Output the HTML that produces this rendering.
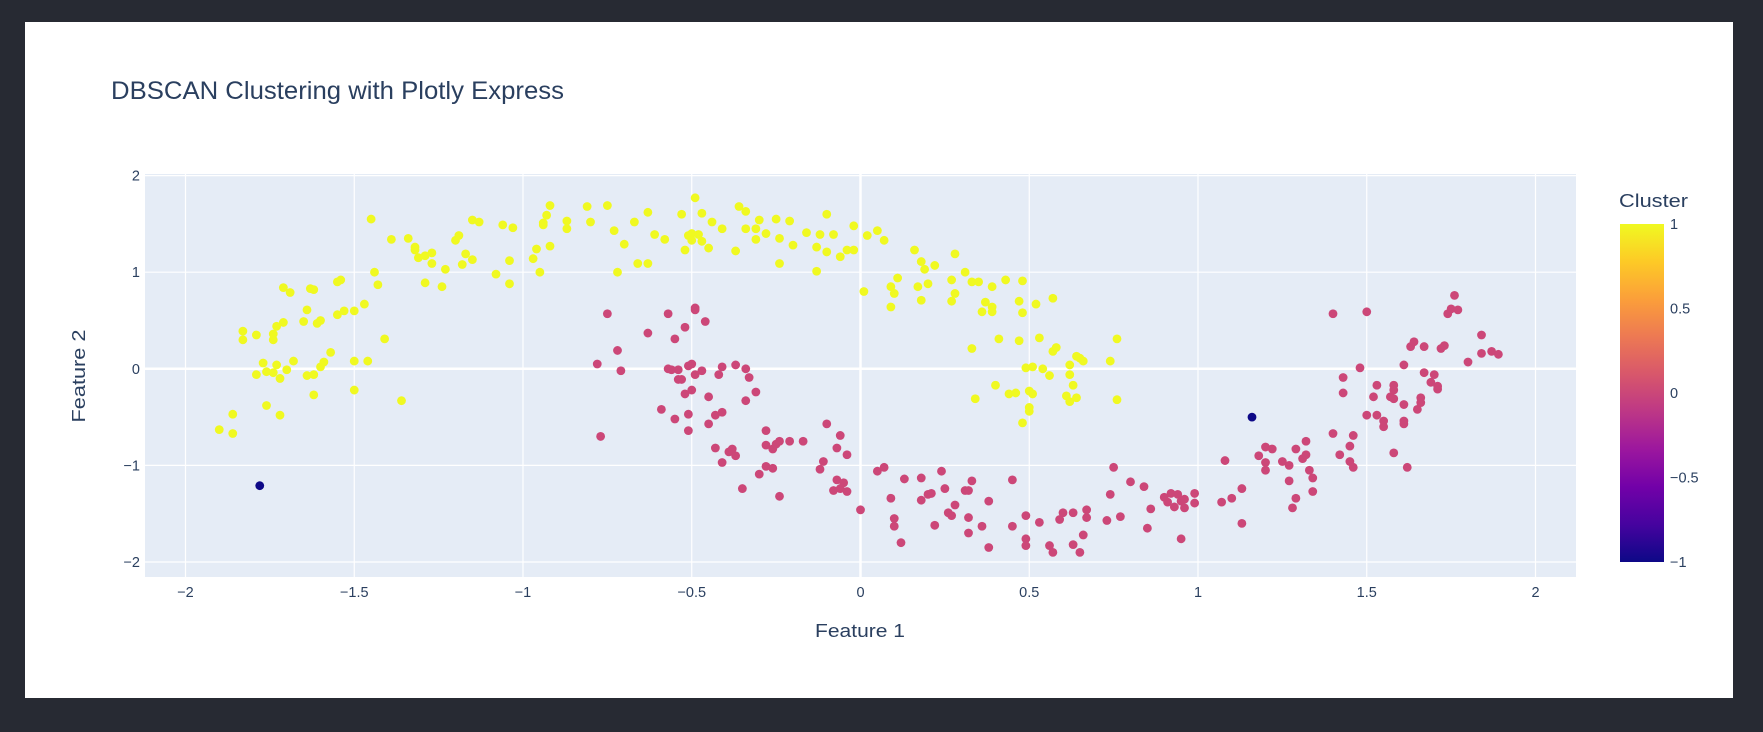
<!DOCTYPE html>
<html><head><meta charset="utf-8"><style>
html,body{margin:0;padding:0;background:#272a33;width:1763px;height:732px;overflow:hidden}
#card{position:absolute;left:25px;top:22px;width:1708px;height:676px;background:#fff}
svg{position:absolute;left:0;top:0}
text{font-family:"Liberation Sans","DejaVu Sans",sans-serif;fill:#2a3f5f}
</style></head><body>
<div id="card"></div>
<svg id="chart" width="1763" height="732"></svg>
<script>
const xTicks=[-2,-1.5,-1,-0.5,0,0.5,1,1.5,2];
const xTickLabels=["−2","−1.5","−1","−0.5","0","0.5","1","1.5","2"];
const yTicks=[-2,-1,0,1,2];
const yTickLabels=["−2","−1","0","1","2"];
const cbTicks=[-1,-0.5,0,0.5,1];
const cbTickLabels=["−1","−0.5","0","0.5","1"];
const noisePoints=[[-1.78,-1.21],[1.16,-0.50]];
const cluster1Points=[[-1.90,-0.63],[-1.86,-0.67],[-1.86,-0.47],[-1.83,0.39],[-1.83,0.30],[-1.79,0.35],[-1.79,-0.06],[-1.77,0.06],[-1.76,-0.03],[-1.76,-0.38],[-1.74,-0.04],[-1.74,0.30],[-1.74,0.36],[-1.73,0.44],[-1.71,0.48],[-1.73,0.04],[-1.72,-0.10],[-1.72,-0.48],[-1.70,-0.01],[-1.71,0.84],[-1.69,0.79],[-1.68,0.08],[-1.65,0.49],[-1.64,0.61],[-1.63,0.83],[-1.62,0.82],[-1.64,-0.07],[-1.62,-0.06],[-1.62,-0.27],[-1.60,0.02],[-1.61,0.47],[-1.60,0.50],[-1.59,0.07],[-1.57,0.17],[-1.55,0.90],[-1.54,0.92],[-1.55,0.56],[-1.53,0.60],[-1.50,0.60],[-1.50,0.08],[-1.50,-0.22],[-1.47,0.67],[-1.46,0.08],[-1.45,1.55],[-1.44,1.00],[-1.43,0.87],[-1.41,0.31],[-1.39,1.34],[-1.36,-0.33],[-1.34,1.35],[-1.32,1.26],[-1.32,1.23],[-1.31,1.15],[-1.29,0.89],[-1.29,1.17],[-1.27,1.20],[-1.27,1.09],[-1.24,0.85],[-1.23,1.03],[-1.20,1.33],[-1.19,1.38],[-1.18,1.08],[-1.17,1.19],[-1.15,1.13],[-1.15,1.54],[-1.13,1.52],[-1.08,0.98],[-1.06,1.49],[-1.04,0.88],[-1.04,1.12],[-1.03,1.46],[-0.97,1.14],[-0.96,1.24],[-0.95,1.00],[-0.94,1.49],[-0.94,1.51],[-0.93,1.59],[-0.92,1.69],[-0.92,1.27],[-0.87,1.53],[-0.87,1.45],[-0.81,1.68],[-0.80,1.52],[-0.75,1.69],[-0.73,1.43],[-0.72,1.00],[-0.70,1.29],[-0.67,1.52],[-0.66,1.09],[-0.63,1.62],[-0.63,1.09],[-0.61,1.39],[-0.58,1.34],[-0.53,1.60],[-0.52,1.23],[-0.51,1.38],[-0.50,1.40],[-0.50,1.33],[-0.49,1.77],[-0.48,1.39],[-0.47,1.32],[-0.47,1.61],[-0.45,1.25],[-0.44,1.52],[-0.41,1.45],[-0.37,1.22],[-0.36,1.68],[-0.34,1.63],[-0.34,1.45],[-0.31,1.45],[-0.31,1.34],[-0.30,1.54],[-0.28,1.40],[-0.25,1.55],[-0.24,1.35],[-0.24,1.09],[-0.21,1.53],[-0.20,1.28],[-0.16,1.41],[-0.13,1.26],[-0.12,1.39],[-0.13,1.01],[-0.10,1.21],[-0.10,1.60],[-0.08,1.39],[-0.06,1.16],[-0.04,1.23],[-0.02,1.23],[-0.02,1.48],[0.01,0.80],[0.02,1.38],[0.05,1.43],[0.07,1.33],[0.09,0.64],[0.09,0.85],[0.10,0.78],[0.11,0.94],[0.16,1.23],[0.17,0.85],[0.18,1.11],[0.19,1.03],[0.18,0.71],[0.20,0.88],[0.22,1.07],[0.27,0.92],[0.28,0.78],[0.27,0.70],[0.28,1.19],[0.31,1.00],[0.33,0.90],[0.35,0.90],[0.33,0.21],[0.34,-0.31],[0.36,0.59],[0.37,0.69],[0.39,0.59],[0.39,0.64],[0.39,0.85],[0.41,0.31],[0.40,-0.17],[0.43,0.92],[0.44,-0.26],[0.46,-0.25],[0.47,0.70],[0.47,0.29],[0.48,0.91],[0.48,0.58],[0.48,-0.56],[0.49,0.01],[0.50,-0.44],[0.50,-0.40],[0.50,-0.23],[0.51,-0.26],[0.51,0.02],[0.52,0.67],[0.53,0.32],[0.54,0.00],[0.56,-0.07],[0.57,0.18],[0.57,0.73],[0.58,0.22],[0.61,-0.28],[0.62,-0.34],[0.62,0.04],[0.62,-0.06],[0.63,-0.17],[0.64,-0.30],[0.64,0.13],[0.65,0.11],[0.66,0.08],[0.74,0.08],[0.76,-0.32],[0.76,0.31]];
const cluster0Points=[[-0.75,0.57],[-0.78,0.05],[-0.77,-0.70],[-0.72,0.19],[-0.71,-0.02],[-0.63,0.37],[-0.59,-0.42],[-0.57,0.57],[-0.57,0.00],[-0.56,-0.01],[-0.55,0.31],[-0.55,-0.52],[-0.54,-0.01],[-0.54,-0.11],[-0.53,-0.11],[-0.52,0.43],[-0.52,-0.26],[-0.51,0.03],[-0.51,-0.47],[-0.51,-0.64],[-0.50,0.05],[-0.50,-0.22],[-0.49,-0.06],[-0.49,0.63],[-0.49,0.61],[-0.47,-0.02],[-0.46,0.49],[-0.45,-0.29],[-0.45,-0.57],[-0.43,-0.82],[-0.43,-0.48],[-0.42,-0.06],[-0.41,-0.45],[-0.41,0.02],[-0.41,-0.97],[-0.39,-0.86],[-0.38,-0.83],[-0.37,0.04],[-0.37,-0.90],[-0.35,-1.24],[-0.34,-0.33],[-0.34,0.00],[-0.33,-0.09],[-0.31,-0.24],[-0.30,-1.09],[-0.28,-0.79],[-0.28,-1.01],[-0.28,-0.64],[-0.26,-1.03],[-0.26,-0.83],[-0.25,-0.78],[-0.24,-1.32],[-0.24,-0.75],[-0.21,-0.75],[-0.17,-0.75],[-0.12,-1.04],[-0.11,-0.96],[-0.10,-0.57],[-0.08,-1.26],[-0.07,-1.15],[-0.07,-0.82],[-0.06,-1.24],[-0.06,-0.69],[-0.05,-1.18],[-0.04,-0.89],[-0.04,-1.27],[0.00,-1.46],[0.05,-1.06],[0.07,-1.02],[0.09,-1.34],[0.10,-1.55],[0.10,-1.63],[0.12,-1.80],[0.13,-1.14],[0.18,-1.13],[0.18,-1.36],[0.20,-1.30],[0.21,-1.29],[0.22,-1.62],[0.24,-1.06],[0.25,-1.24],[0.26,-1.49],[0.27,-1.52],[0.28,-1.41],[0.31,-1.26],[0.32,-1.26],[0.32,-1.54],[0.33,-1.16],[0.32,-1.70],[0.36,-1.63],[0.38,-1.85],[0.38,-1.37],[0.45,-1.63],[0.45,-1.15],[0.49,-1.52],[0.49,-1.76],[0.49,-1.83],[0.53,-1.59],[0.56,-1.83],[0.57,-1.90],[0.59,-1.56],[0.60,-1.49],[0.63,-1.49],[0.63,-1.82],[0.65,-1.90],[0.66,-1.72],[0.67,-1.54],[0.67,-1.46],[0.73,-1.57],[0.74,-1.30],[0.75,-1.02],[0.77,-1.53],[0.80,-1.17],[0.84,-1.22],[0.85,-1.65],[0.86,-1.45],[0.90,-1.33],[0.91,-1.38],[0.92,-1.29],[0.93,-1.43],[0.94,-1.30],[0.95,-1.37],[0.95,-1.76],[0.96,-1.44],[0.96,-1.35],[0.99,-1.39],[0.99,-1.29],[1.07,-1.38],[1.08,-0.95],[1.10,-1.34],[1.13,-1.60],[1.13,-1.24],[1.18,-0.90],[1.20,-0.97],[1.20,-1.05],[1.20,-0.81],[1.22,-0.83],[1.25,-0.96],[1.27,-1.16],[1.27,-1.00],[1.28,-1.44],[1.29,-0.83],[1.29,-1.34],[1.31,-0.93],[1.32,-0.89],[1.32,-0.75],[1.33,-1.05],[1.34,-1.13],[1.34,-1.27],[1.40,0.57],[1.40,-0.67],[1.42,-0.89],[1.43,-0.25],[1.43,-0.09],[1.45,-0.80],[1.45,-0.96],[1.46,-1.02],[1.46,-0.69],[1.48,0.01],[1.50,0.59],[1.50,-0.48],[1.52,-0.29],[1.53,-0.48],[1.53,-0.17],[1.55,-0.54],[1.55,-0.60],[1.57,-0.29],[1.58,-0.17],[1.58,-0.22],[1.58,-0.31],[1.58,-0.87],[1.61,-0.37],[1.61,-0.54],[1.61,-0.57],[1.61,0.04],[1.62,-1.02],[1.63,0.23],[1.64,0.28],[1.65,-0.42],[1.66,-0.30],[1.66,-0.35],[1.67,0.23],[1.67,-0.04],[1.69,-0.14],[1.70,-0.06],[1.71,-0.21],[1.71,-0.18],[1.72,0.21],[1.73,0.24],[1.74,0.57],[1.75,0.62],[1.76,0.76],[1.77,0.61],[1.80,0.07],[1.84,0.35],[1.84,0.16],[1.87,0.18],[1.89,0.15]];

const NS='http://www.w3.org/2000/svg';
const svg=document.getElementById('chart');
const P={l:145,r:1576,t:174,b:577};
const X=v=>860.5+v*337.5;
const Y=v=>368.8-v*96.6;
const CB={x:1620,w:44,t:224,b:562};
const CBY=v=>CB.b-(v+1)/2*(CB.b-CB.t);
function mk(tag,attrs,parent){const e=document.createElementNS(NS,tag);for(const k in attrs)e.setAttribute(k,attrs[k]);(parent||svg).appendChild(e);return e;}

const defs=mk('defs',{});
const lg=mk('linearGradient',{id:'plasma',x1:0,y1:1,x2:0,y2:0},defs);
['#0d0887','#46039f','#7201a8','#9c179e','#bd3786','#d8576b','#ed7953','#fb9f3a','#fdca26','#f0f921'].forEach((c,i)=>mk('stop',{offset:i/9,'stop-color':c},lg));

const title=mk('text',{x:111,y:99,'font-size':25,textLength:453,lengthAdjust:'spacingAndGlyphs'});
title.textContent='DBSCAN Clustering with Plotly Express';



const bg=mk('rect',{x:P.l,y:P.t,width:P.r-P.l,height:P.b-P.t,fill:'#e5ecf6'});



xTicks.forEach((v,i)=>{
  const g=mk('line',{x1:X(v),x2:X(v),y1:P.t,y2:P.b,stroke:'#fff','stroke-width':v===0?2.5:1.2});
  
  
  const t=mk('text',{x:X(v),y:597,'font-size':14.5,'text-anchor':'middle'});
  t.textContent=xTickLabels[i];
  
  
});
yTicks.forEach((v,i)=>{
  const g=mk('line',{x1:P.l,x2:P.r,y1:Y(v),y2:Y(v),stroke:'#fff','stroke-width':v===0?2.5:1.2});
  
  
  const t=mk('text',{x:140,y:Y(v)+5,'font-size':14.5,'text-anchor':'end'});
  t.textContent=yTickLabels[i];
  
  
});

function drawPts(arr,color,name){
  arr.forEach(p=>{
    const c=mk('circle',{cx:X(p[0]),cy:Y(p[1]),r:4.4,fill:color});
    
    
  });
}
drawPts(cluster0Points,'#cc4778','cluster-0-point');
drawPts(cluster1Points,'#f0f921','cluster-1-point');
drawPts(noisePoints,'#0d0887','noise-point');

const xt=mk('text',{x:860,y:637,'font-size':18,'text-anchor':'middle',textLength:90,lengthAdjust:'spacingAndGlyphs'});
xt.textContent='Feature 1';


const yt=mk('text',{x:0,y:0,'font-size':18,'text-anchor':'middle',textLength:93,lengthAdjust:'spacingAndGlyphs',transform:'translate(85,376) rotate(-90)'});
yt.textContent='Feature 2';



const ct=mk('text',{x:1619,y:207,'font-size':18,textLength:69,lengthAdjust:'spacingAndGlyphs'});
ct.textContent='Cluster';


const cb=mk('rect',{x:CB.x,y:CB.t,width:CB.w,height:CB.b-CB.t,fill:'url(#plasma)'});


cbTicks.forEach((v,i)=>{
  const t=mk('text',{x:1670,y:CBY(v)+5,'font-size':14.5});
  t.textContent=cbTickLabels[i];
  
  
});
</script>
</body></html>
